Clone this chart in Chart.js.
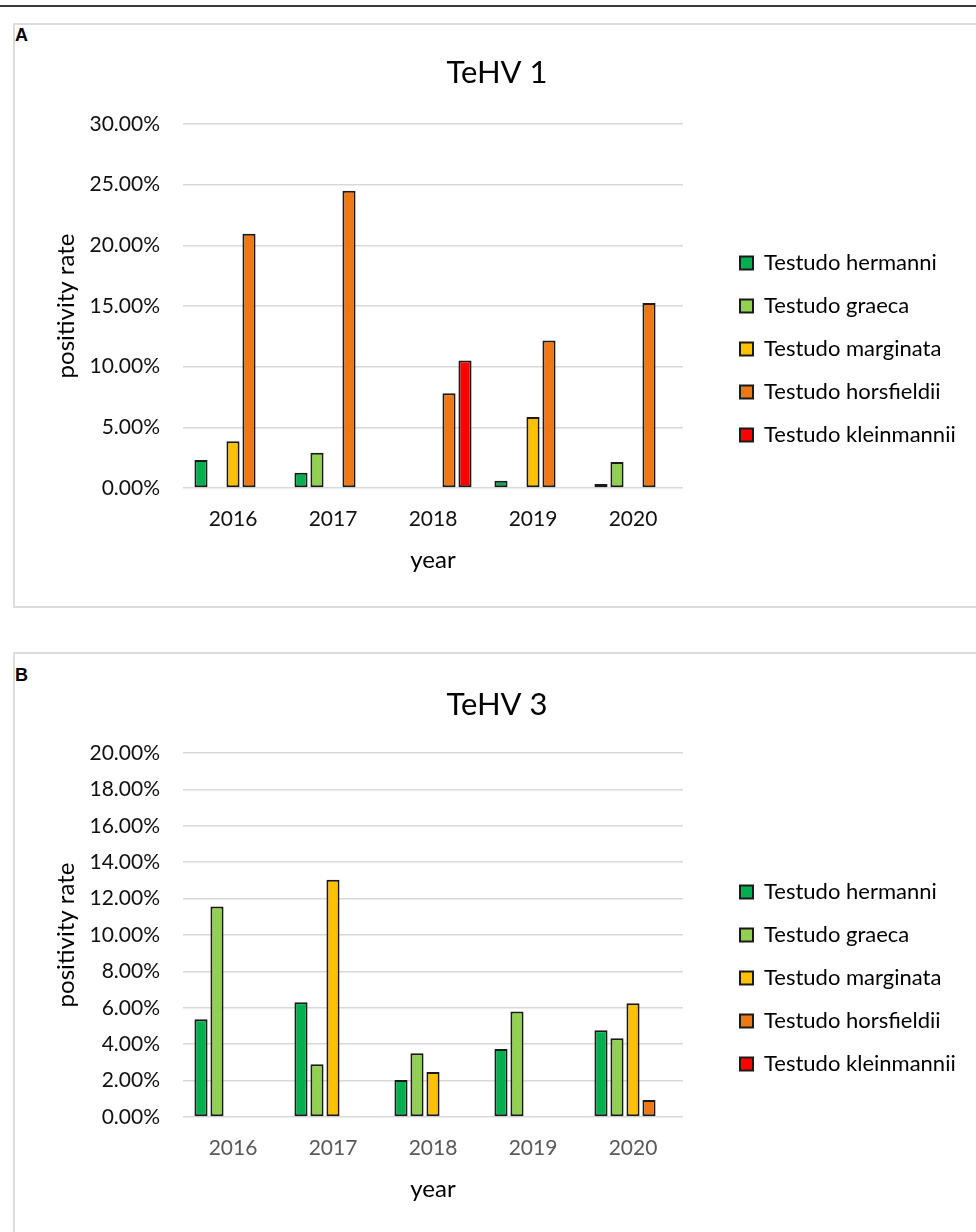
<!DOCTYPE html>
<html>
<head>
<meta charset="utf-8">
<title>TeHV positivity rate</title>
<script src="https://cdn.jsdelivr.net/npm/chart.js@4.4.1/dist/chart.umd.min.js"></script>
<style>
  html, body { margin: 0; padding: 0; background: #fff; overflow: hidden; }
  body { width: 976px; height: 1232px; position: relative; }
  .rule { position: absolute; left: 0; top: 5px; width: 976px; height: 2px; background: #3a3a3a; }
  .panel { position: absolute; left: 13px; width: 990px; box-sizing: border-box; border: 2px solid #dcdcdc; }
  .letter { position: absolute; left: 15px; font: bold 18px "Liberation Sans", Arial, sans-serif; color: #000; }
  canvas { position: absolute; left: 13px; }
</style>
</head>
<body>
<div class="rule"></div>
<div class="panel" style="top:23px;height:585px"></div>
<div class="panel" style="top:652px;height:620px"></div>
<div class="letter" style="top:25px">A</div>
<div class="letter" style="top:665px">B</div>
<canvas id="chartA" width="968" height="583" style="top:24px"></canvas>
<canvas id="chartB" width="968" height="583" style="top:653px"></canvas>

<script>
// Categories and series
const years = ['2016', '2017', '2018', '2019', '2020'];
const species = ['Testudo hermanni', 'Testudo graeca', 'Testudo marginata', 'Testudo horsfieldii', 'Testudo kleinmannii'];
const speciesColors = ['#00b050', '#92d050', '#ffc000', '#f07814', '#ff0000'];

// TeHV 1 positivity rate in % (null = no bar)
const hermanniA    = [2.3, 1.25, null, 0.6, 0.33];
const graecaA      = [null, 2.9, null, null, 2.15];
const marginataA   = [3.85, null, null, 5.85, null];
const horsfieldiiA = [20.95, 24.5, 7.8, 12.15, 15.25];
const kleinmanniiA = [null, null, 10.5, null, null];

// TeHV 3 positivity rate in %
const hermanniB    = [5.37, 6.3, 2.03, 3.73, 4.77];
const graecaB      = [11.56, 2.9, 3.5, 5.8, 4.33];
const marginataB   = [null, 13.04, 2.47, null, 6.25];
const horsfieldiiB = [null, null, null, null, 0.93];
const kleinmanniiB = [null, null, null, null, null];

// y axis ticks
const yTicksA = [0, 5, 10, 15, 20, 25, 30];
const yTicksB = [0, 2, 4, 6, 8, 10, 12, 14, 16, 18, 20];

Chart.defaults.font.family = 'Lato, "Open Sans", sans-serif';
Chart.defaults.color = '#111';

// move the legend to the spot Excel puts it
const legendPlacer = {
  id: 'legendPlacer',
  afterLayout(chart) {
    const lg = chart.legend;
    const pad = lg.options.labels.padding;
    lg.left = 727 - pad;
    lg.right = chart.width;
    lg.top = 228 - pad;
    lg.bottom = chart.height;
    lg.width = lg.right - lg.left;
    lg.height = lg.bottom - lg.top;
  }
};

function makeChart(id, title, titlePad, series, ticks, xColor) {
  const ctx = document.getElementById(id).getContext('2d');
  return new Chart(ctx, {
    type: 'bar',
    data: {
      labels: years,
      datasets: series.map((values, i) => ({
        label: species[i],
        data: values,
        yAxisID: 'y',
        backgroundColor: speciesColors[i],
        borderColor: '#1a1a1a',
        borderWidth: 2,
        borderSkipped: false,
        categoryPercentage: 0.8,
        barPercentage: 0.82
      }))
    },
    options: {
      responsive: false,
      animation: false,
      layout: { padding: 0 },
      plugins: {
        title: {
          display: true,
          text: title,
          color: '#000',
          font: { size: 31, weight: 'normal' },
          padding: titlePad
        },
        legend: {
          position: 'chartArea',
          align: 'start',
          labels: {
            boxWidth: 13,
            boxHeight: 13,
            padding: 21,
            color: '#000',
            font: { size: 22 }
          }
        },
        tooltip: { enabled: false }
      },
      scales: {
        x: {
          grid: { display: false, drawTicks: false },
          border: { display: false },
          ticks: { color: xColor, padding: 19, font: { size: 21 } },
          title: { display: true, text: 'year', color: '#000', font: { size: 24 }, padding: { top: 10, bottom: 32.6 } },
          afterFit(scale) { scale.height = 119; }
        },
        y: {
          min: ticks[0],
          max: ticks[ticks.length - 1],
          ticks: {
            stepSize: ticks[1] - ticks[0],
            padding: 23,
            color: '#111',
            font: { size: 21 },
            callback: v => v.toFixed(2) + '%'
          },
          grid: { color: '#d9d9d9', lineWidth: 1.5, drawTicks: false },
          border: { display: false },
          title: { display: true, text: 'positivity rate', color: '#000', font: { size: 24 }, padding: { top: 38.6, bottom: 0 } },
          afterFit(scale) { scale.width = 170; }
        },
        legendSpace: {
          type: 'linear',
          position: 'right',
          grid: { display: false },
          border: { display: false },
          ticks: { display: false },
          afterFit(scale) { scale.width = 298; }
        }
      }
    },
    plugins: [legendPlacer]
  });
}

makeChart('chartA', 'TeHV 1', { top: 30, bottom: 32.8 },
  [hermanniA, graecaA, marginataA, horsfieldiiA, kleinmanniiA], yTicksA, '#111');
makeChart('chartB', 'TeHV 3', { top: 33.4, bottom: 29.4 },
  [hermanniB, graecaB, marginataB, horsfieldiiB, kleinmanniiB], yTicksB, '#595959');
</script>
</body>
</html>
